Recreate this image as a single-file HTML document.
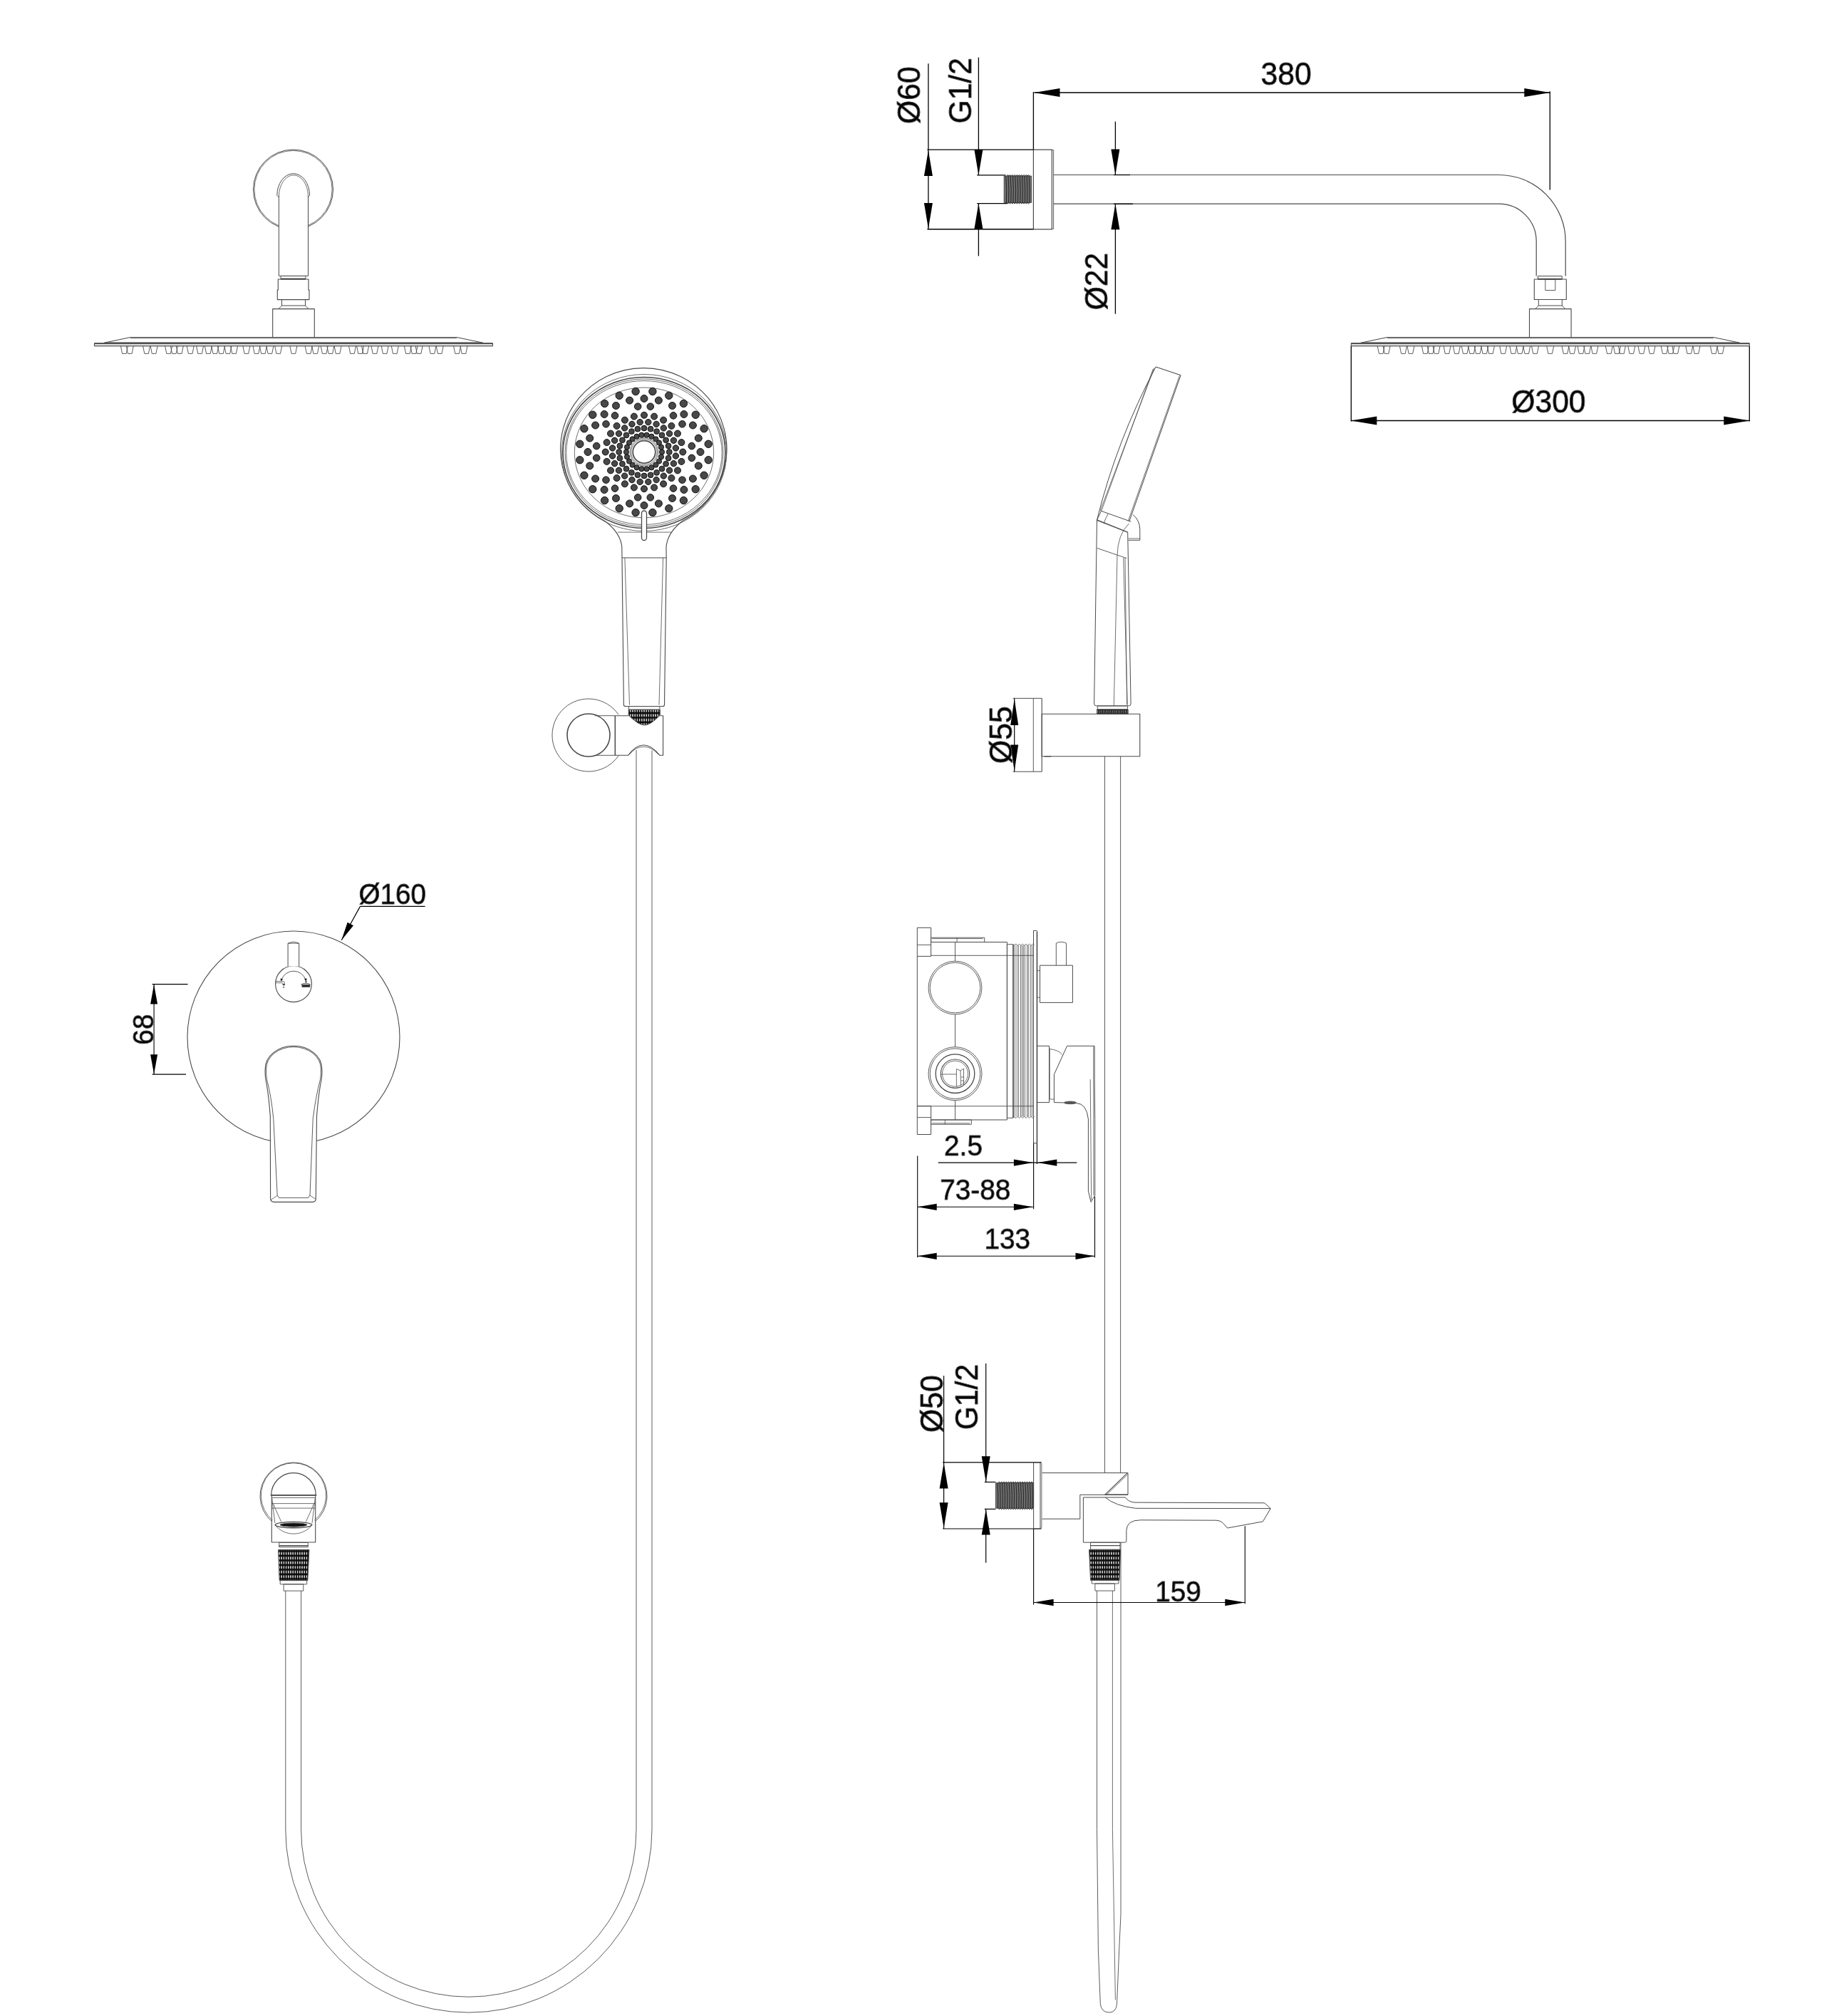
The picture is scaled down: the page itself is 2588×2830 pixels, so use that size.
<!DOCTYPE html>
<html><head><meta charset="utf-8"><title>drawing</title>
<style>
html,body{margin:0;padding:0;background:#fff;}
svg{display:block;will-change:transform;}
.t{font-family:"Liberation Sans",sans-serif;fill:#000;}
.ar{fill:#000;stroke:none;}
</style></head><body>
<svg width="2588" height="2830" viewBox="0 0 2588 2830">
<defs>
<pattern id="kn" patternUnits="userSpaceOnUse" width="3.2" height="6.5"><rect width="3.2" height="6.5" fill="#0a0a0a"/><ellipse cx="1.6" cy="3.25" rx="0.75" ry="2.3" fill="#f4f4f4"/></pattern>
<pattern id="kn2" patternUnits="userSpaceOnUse" width="2.6" height="6"><rect width="2.6" height="6" fill="#222"/><rect x="1" y="1.2" width="0.8" height="3.6" fill="#999"/></pattern>
</defs>
<rect width="100%" height="100%" fill="#fff"/>
<g fill="none" stroke="#4a4a4a" stroke-width="1" stroke-linejoin="round">
<rect x="132.5" y="482" width="559" height="3.6" stroke-width="1.1"/>
<line x1="132.5" y1="482.2" x2="691.5" y2="482.2" stroke-width="1.9"/>
<line x1="147" y1="480.8" x2="677" y2="480.8" stroke-width="0.9"/>
<path d="M146,481.3 L183,473.5 L641,473.5 L678,481.3" stroke-width="1.1"/>
<line x1="183" y1="474.8" x2="641" y2="474.8" stroke-width="0.8"/>
<path d="M169.4,485.6 L171.6,496.4 L177.2,496.4 L179.4,485.6" stroke-width="0.9"/>
<path d="M177.3,485.6 L179.5,496.4 L185.1,496.4 L187.3,485.6" stroke-width="0.9"/>
<path d="M200.6,485.6 L202.8,496.4 L208.4,496.4 L210.6,485.6" stroke-width="0.9"/>
<path d="M211.1,485.6 L213.3,496.4 L218.9,496.4 L221.1,485.6" stroke-width="0.9"/>
<path d="M231.6,485.6 L233.8,496.4 L239.4,496.4 L241.6,485.6" stroke-width="0.9"/>
<path d="M239.4,485.6 L241.6,496.4 L247.2,496.4 L249.4,485.6" stroke-width="0.9"/>
<path d="M247.3,485.6 L249.5,496.4 L255.1,496.4 L257.3,485.6" stroke-width="0.9"/>
<path d="M262.2,485.6 L264.4,496.4 L270,496.4 L272.2,485.6" stroke-width="0.9"/>
<path d="M275.6,485.6 L277.8,496.4 L283.4,496.4 L285.6,485.6" stroke-width="0.9"/>
<path d="M287.4,485.6 L289.6,496.4 L295.2,496.4 L297.4,485.6" stroke-width="0.9"/>
<path d="M296.8,485.6 L299,496.4 L304.6,496.4 L306.8,485.6" stroke-width="0.9"/>
<path d="M305.5,485.6 L307.7,496.4 L313.3,496.4 L315.5,485.6" stroke-width="0.9"/>
<path d="M314.9,485.6 L317.1,496.4 L322.7,496.4 L324.9,485.6" stroke-width="0.9"/>
<path d="M323.6,485.6 L325.8,496.4 L331.4,496.4 L333.6,485.6" stroke-width="0.9"/>
<path d="M340.9,485.6 L343.1,496.4 L348.7,496.4 L350.9,485.6" stroke-width="0.9"/>
<path d="M355,485.6 L357.2,496.4 L362.8,496.4 L365,485.6" stroke-width="0.9"/>
<path d="M364.4,485.6 L366.6,496.4 L372.2,496.4 L374.4,485.6" stroke-width="0.9"/>
<path d="M373.9,485.6 L376.1,496.4 L381.7,496.4 L383.9,485.6" stroke-width="0.9"/>
<path d="M385.7,485.6 L387.9,496.4 L393.5,496.4 L395.7,485.6" stroke-width="0.9"/>
<path d="M406.9,485.6 L409.1,496.4 L414.7,496.4 L416.9,485.6" stroke-width="0.9"/>
<path d="M428.2,485.6 L430.4,496.4 L436,496.4 L438.2,485.6" stroke-width="0.9"/>
<path d="M437.7,485.6 L439.9,496.4 L445.5,496.4 L447.7,485.6" stroke-width="0.9"/>
<path d="M450.2,485.6 L452.4,496.4 L458,496.4 L460.2,485.6" stroke-width="0.9"/>
<path d="M458.9,485.6 L461.1,496.4 L466.7,496.4 L468.9,485.6" stroke-width="0.9"/>
<path d="M469.1,485.6 L471.3,496.4 L476.9,496.4 L479.1,485.6" stroke-width="0.9"/>
<path d="M489.5,485.6 L491.7,496.4 L497.3,496.4 L499.5,485.6" stroke-width="0.9"/>
<path d="M500.6,485.6 L502.8,496.4 L508.4,496.4 L510.6,485.6" stroke-width="0.9"/>
<path d="M507.6,485.6 L509.8,496.4 L515.4,496.4 L517.6,485.6" stroke-width="0.9"/>
<path d="M521,485.6 L523.2,496.4 L528.8,496.4 L531,485.6" stroke-width="0.9"/>
<path d="M535.2,485.6 L537.4,496.4 L543,496.4 L545.2,485.6" stroke-width="0.9"/>
<path d="M549.3,485.6 L551.5,496.4 L557.1,496.4 L559.3,485.6" stroke-width="0.9"/>
<path d="M567.4,485.6 L569.6,496.4 L575.2,496.4 L577.4,485.6" stroke-width="0.9"/>
<path d="M576,485.6 L578.2,496.4 L583.8,496.4 L586,485.6" stroke-width="0.9"/>
<path d="M583.1,485.6 L585.3,496.4 L590.9,496.4 L593.1,485.6" stroke-width="0.9"/>
<path d="M602,485.6 L604.2,496.4 L609.8,496.4 L612,485.6" stroke-width="0.9"/>
<path d="M612.2,485.6 L614.4,496.4 L620,496.4 L622.2,485.6" stroke-width="0.9"/>
<path d="M636.6,485.6 L638.8,496.4 L644.4,496.4 L646.6,485.6" stroke-width="0.9"/>
<path d="M646,485.6 L648.2,496.4 L653.8,496.4 L656,485.6" stroke-width="0.9"/>
<rect x="382.7" y="433.6" width="58.6" height="39.9" stroke-width="1.1"/>
<path d="M391,433.6 L395.5,429 L428.5,429 L433,433.6" stroke-width="1"/>
<line x1="395.5" y1="429" x2="395.5" y2="420.5" stroke-width="1"/>
<line x1="428.5" y1="429" x2="428.5" y2="420.5" stroke-width="1"/>
<path d="M390.3,392 H433 V407.1 H434 V420.6 H389.3 V407.1 H390.3 Z" stroke-width="1.1"/>
<rect x="394" y="387.3" width="34.9" height="4.7" stroke-width="0.9"/>
<line x1="394" y1="391.4" x2="428.9" y2="391.4" stroke-width="1.7"/>
<circle cx="411.5" cy="266" r="56" stroke-width="1"/>
<circle cx="411.5" cy="266" r="54.6" stroke-width="0.8"/>
<path d="M391.4,387.3 V274 A20.55,30.2 0 0 1 432.5,274 V387.3 Z" fill="#fff" stroke="none"/>
<path d="M391.4,275 V387.3 H432.5 V275" stroke-width="1"/>
<path d="M388.8,274.5 A22.9,30.8 0 0 1 434.6,274.5" stroke-width="1"/>
<path d="M391.4,276 A20.55,30.2 0 0 1 432.5,276" stroke-width="0.8"/>
<line x1="388.8" y1="274.5" x2="391.4" y2="276.5" stroke-width="0.8"/>
<line x1="434.6" y1="274.5" x2="432.5" y2="276.5" stroke-width="0.8"/>
<rect x="1896.3" y="482" width="559" height="3.6" stroke-width="1.1"/>
<line x1="1896.3" y1="482.2" x2="2455.3" y2="482.2" stroke-width="1.9"/>
<line x1="1910.8" y1="480.8" x2="2440.8" y2="480.8" stroke-width="0.9"/>
<path d="M1909.8,481.3 L1946.8,473.5 L2404.8,473.5 L2441.8,481.3" stroke-width="1.1"/>
<line x1="1946.8" y1="474.8" x2="2404.8" y2="474.8" stroke-width="0.8"/>
<path d="M1933.2,485.6 L1935.4,496.4 L1941,496.4 L1943.2,485.6" stroke-width="0.9"/>
<path d="M1941.1,485.6 L1943.3,496.4 L1948.9,496.4 L1951.1,485.6" stroke-width="0.9"/>
<path d="M1964.4,485.6 L1966.6,496.4 L1972.2,496.4 L1974.4,485.6" stroke-width="0.9"/>
<path d="M1974.9,485.6 L1977.1,496.4 L1982.7,496.4 L1984.9,485.6" stroke-width="0.9"/>
<path d="M1995.4,485.6 L1997.6,496.4 L2003.2,496.4 L2005.4,485.6" stroke-width="0.9"/>
<path d="M2003.2,485.6 L2005.4,496.4 L2011,496.4 L2013.2,485.6" stroke-width="0.9"/>
<path d="M2011.1,485.6 L2013.3,496.4 L2018.9,496.4 L2021.1,485.6" stroke-width="0.9"/>
<path d="M2026,485.6 L2028.2,496.4 L2033.8,496.4 L2036,485.6" stroke-width="0.9"/>
<path d="M2039.4,485.6 L2041.6,496.4 L2047.2,496.4 L2049.4,485.6" stroke-width="0.9"/>
<path d="M2051.2,485.6 L2053.4,496.4 L2059,496.4 L2061.2,485.6" stroke-width="0.9"/>
<path d="M2060.6,485.6 L2062.8,496.4 L2068.4,496.4 L2070.6,485.6" stroke-width="0.9"/>
<path d="M2069.3,485.6 L2071.5,496.4 L2077.1,496.4 L2079.3,485.6" stroke-width="0.9"/>
<path d="M2078.7,485.6 L2080.9,496.4 L2086.5,496.4 L2088.7,485.6" stroke-width="0.9"/>
<path d="M2087.4,485.6 L2089.6,496.4 L2095.2,496.4 L2097.4,485.6" stroke-width="0.9"/>
<path d="M2104.7,485.6 L2106.9,496.4 L2112.5,496.4 L2114.7,485.6" stroke-width="0.9"/>
<path d="M2118.8,485.6 L2121,496.4 L2126.6,496.4 L2128.8,485.6" stroke-width="0.9"/>
<path d="M2128.2,485.6 L2130.4,496.4 L2136,496.4 L2138.2,485.6" stroke-width="0.9"/>
<path d="M2137.7,485.6 L2139.9,496.4 L2145.5,496.4 L2147.7,485.6" stroke-width="0.9"/>
<path d="M2149.5,485.6 L2151.7,496.4 L2157.3,496.4 L2159.5,485.6" stroke-width="0.9"/>
<path d="M2170.7,485.6 L2172.9,496.4 L2178.5,496.4 L2180.7,485.6" stroke-width="0.9"/>
<path d="M2192,485.6 L2194.2,496.4 L2199.8,496.4 L2202,485.6" stroke-width="0.9"/>
<path d="M2201.5,485.6 L2203.7,496.4 L2209.3,496.4 L2211.5,485.6" stroke-width="0.9"/>
<path d="M2214,485.6 L2216.2,496.4 L2221.8,496.4 L2224,485.6" stroke-width="0.9"/>
<path d="M2222.7,485.6 L2224.9,496.4 L2230.5,496.4 L2232.7,485.6" stroke-width="0.9"/>
<path d="M2232.9,485.6 L2235.1,496.4 L2240.7,496.4 L2242.9,485.6" stroke-width="0.9"/>
<path d="M2253.3,485.6 L2255.5,496.4 L2261.1,496.4 L2263.3,485.6" stroke-width="0.9"/>
<path d="M2264.4,485.6 L2266.6,496.4 L2272.2,496.4 L2274.4,485.6" stroke-width="0.9"/>
<path d="M2271.4,485.6 L2273.6,496.4 L2279.2,496.4 L2281.4,485.6" stroke-width="0.9"/>
<path d="M2284.8,485.6 L2287,496.4 L2292.6,496.4 L2294.8,485.6" stroke-width="0.9"/>
<path d="M2299,485.6 L2301.2,496.4 L2306.8,496.4 L2309,485.6" stroke-width="0.9"/>
<path d="M2313.1,485.6 L2315.3,496.4 L2320.9,496.4 L2323.1,485.6" stroke-width="0.9"/>
<path d="M2331.2,485.6 L2333.4,496.4 L2339,496.4 L2341.2,485.6" stroke-width="0.9"/>
<path d="M2339.8,485.6 L2342,496.4 L2347.6,496.4 L2349.8,485.6" stroke-width="0.9"/>
<path d="M2346.9,485.6 L2349.1,496.4 L2354.7,496.4 L2356.9,485.6" stroke-width="0.9"/>
<path d="M2365.8,485.6 L2368,496.4 L2373.6,496.4 L2375.8,485.6" stroke-width="0.9"/>
<path d="M2376,485.6 L2378.2,496.4 L2383.8,496.4 L2386,485.6" stroke-width="0.9"/>
<path d="M2400.4,485.6 L2402.6,496.4 L2408.2,496.4 L2410.4,485.6" stroke-width="0.9"/>
<path d="M2409.8,485.6 L2412,496.4 L2417.6,496.4 L2419.8,485.6" stroke-width="0.9"/>
<rect x="2146.5" y="433.6" width="58.6" height="39.9" stroke-width="1.1"/>
<path d="M2154.8,433.6 L2159.3,429 L2192.3,429 L2196.8,433.6" stroke-width="1"/>
<line x1="2159.3" y1="429" x2="2159.3" y2="420.5" stroke-width="1"/>
<line x1="2192.3" y1="429" x2="2192.3" y2="420.5" stroke-width="1"/>
<rect x="2153.3" y="392" width="45" height="28.5" stroke-width="1.1"/>
<rect x="2158.4" y="387.5" width="33.8" height="4.5" stroke-width="1"/>
<line x1="2158.4" y1="391.6" x2="2192.2" y2="391.6" stroke-width="1.7"/>
<rect x="2168.8" y="392" width="14" height="15.5" stroke-width="0.9"/>
<path d="M1478.6,245.5 H2103.7 A93.5,93.5 0 0 1 2197.2,339 V387.5" stroke-width="1.2"/>
<path d="M1478.6,286.2 H2103.7 A52.5,52.5 0 0 1 2156.2,338.7 V387.5" stroke-width="1.2"/>
<rect x="1450.4" y="210.1" width="26" height="111.7" stroke-width="1.2"/>
<line x1="1478.6" y1="210.6" x2="1478.6" y2="321.3" stroke-width="0.9"/>
<line x1="1476.4" y1="210.6" x2="1478.6" y2="210.6" stroke-width="0.8"/>
<line x1="1476.4" y1="321.3" x2="1478.6" y2="321.3" stroke-width="0.8"/>
<rect x="1409.2" y="247.1" width="38.4" height="37.3" stroke-width="1" fill="#6e6e6e"/>
<path d="M1411.7,247.4 Q1413.3,265.8 1412.3,284.1" stroke-width="0.8" stroke="#111"/>
<path d="M1415,247.4 Q1416.5,265.8 1415.5,284.1" stroke-width="0.8" stroke="#111"/>
<path d="M1418.2,247.4 Q1419.8,265.8 1418.8,284.1" stroke-width="0.8" stroke="#111"/>
<path d="M1421.5,247.4 Q1423,265.8 1422,284.1" stroke-width="0.8" stroke="#111"/>
<path d="M1424.7,247.4 Q1426.3,265.8 1425.3,284.1" stroke-width="0.8" stroke="#111"/>
<path d="M1428,247.4 Q1429.5,265.8 1428.5,284.1" stroke-width="0.8" stroke="#111"/>
<path d="M1431.2,247.4 Q1432.8,265.8 1431.8,284.1" stroke-width="0.8" stroke="#111"/>
<path d="M1434.5,247.4 Q1436,265.8 1435,284.1" stroke-width="0.8" stroke="#111"/>
<path d="M1437.7,247.4 Q1439.3,265.8 1438.3,284.1" stroke-width="0.8" stroke="#111"/>
<path d="M1441,247.4 Q1442.5,265.8 1441.5,284.1" stroke-width="0.8" stroke="#111"/>
<path d="M1444.2,247.4 Q1445.8,265.8 1444.8,284.1" stroke-width="0.8" stroke="#111"/>
<path d="M1412.7,247.1 L1414.3,245.6 L1416,247.1 L1417.6,245.6 L1419.2,247.1 L1420.8,245.6 L1422.5,247.1 L1424.1,245.6 L1425.7,247.1 L1427.3,245.6 L1429,247.1 L1430.6,245.6 L1432.2,247.1 L1433.8,245.6 L1435.5,247.1 L1437.1,245.6 L1438.7,247.1 L1440.3,245.6 L1442,247.1 L1443.6,245.6 L1445.2,247.1" stroke-width="1" stroke="#111"/>
<path d="M1412.7,284.4 L1414.3,285.9 L1416,284.4 L1417.6,285.9 L1419.2,284.4 L1420.8,285.9 L1422.5,284.4 L1424.1,285.9 L1425.7,284.4 L1427.3,285.9 L1429,284.4 L1430.6,285.9 L1432.2,284.4 L1433.8,285.9 L1435.5,284.4 L1437.1,285.9 L1438.7,284.4 L1440.3,285.9 L1442,284.4 L1443.6,285.9 L1445.2,284.4" stroke-width="1" stroke="#111"/>
<line x1="1301.4" y1="210.1" x2="1450.4" y2="210.1" stroke="#000" stroke-width="1.4"/>
<line x1="1301.4" y1="321.8" x2="1450.4" y2="321.8" stroke="#000" stroke-width="1.4"/>
<line x1="1302.9" y1="89.3" x2="1302.9" y2="321.8" stroke="#000" stroke-width="1.3"/>
<polygon class="ar" points="1302.9,211 1308.9,247 1296.9,247"/>
<polygon class="ar" points="1302.9,321 1296.9,285 1308.9,285"/>
<line x1="1373.4" y1="80.6" x2="1373.4" y2="245.9" stroke="#000" stroke-width="1.3"/>
<line x1="1373.4" y1="285.6" x2="1373.4" y2="359.4" stroke="#000" stroke-width="1.3"/>
<polygon class="ar" points="1373.4,245.9 1367.4,209.9 1379.4,209.9"/>
<polygon class="ar" points="1373.4,285.6 1379.4,321.6 1367.4,321.6"/>
<line x1="1371.2" y1="245.9" x2="1411.4" y2="245.9" stroke="#000" stroke-width="1.3"/>
<line x1="1371.2" y1="285.6" x2="1413.5" y2="285.6" stroke="#000" stroke-width="1.3"/>
<text class="t" font-size="44" text-anchor="middle" transform="translate(1291,133.7) rotate(-90) scale(0.97,1)">Ø60</text>
<text class="t" font-size="44" text-anchor="middle" transform="translate(1363.3,127.3) rotate(-90) scale(0.97,1)">G1/2</text>
<line x1="1450.4" y1="129" x2="1450.4" y2="210.1" stroke="#000" stroke-width="1.3"/>
<line x1="2175.3" y1="128.3" x2="2175.3" y2="266.6" stroke="#000" stroke-width="1.3"/>
<line x1="1451.5" y1="130" x2="2175.3" y2="130" stroke="#000" stroke-width="1.3"/>
<polygon class="ar" points="1451.5,130 1487.5,124 1487.5,136"/>
<polygon class="ar" points="2175.3,130 2139.3,136 2139.3,124"/>
<text class="t" font-size="44" text-anchor="middle" transform="translate(1805.2,118.6) rotate(0) scale(0.97,1)">380</text>
<line x1="1565.4" y1="170.6" x2="1565.4" y2="245.5" stroke="#000" stroke-width="1.3"/>
<line x1="1565.4" y1="286.3" x2="1565.4" y2="440.7" stroke="#000" stroke-width="1.3"/>
<polygon class="ar" points="1565.4,245.5 1559.4,209.5 1571.4,209.5"/>
<polygon class="ar" points="1565.4,286.3 1571.4,322.3 1559.4,322.3"/>
<line x1="1563" y1="245.5" x2="1586" y2="245.5" stroke="#000" stroke-width="1.3"/>
<line x1="1563" y1="286.3" x2="1590" y2="286.3" stroke="#000" stroke-width="1.3"/>
<text class="t" font-size="44" text-anchor="middle" transform="translate(1553.7,395) rotate(-90) scale(0.97,1)">Ø22</text>
<line x1="1896.3" y1="486" x2="1896.3" y2="591.5" stroke="#000" stroke-width="1.3"/>
<line x1="2455.3" y1="486" x2="2455.3" y2="591.5" stroke="#000" stroke-width="1.3"/>
<line x1="1896.3" y1="590.5" x2="2455.3" y2="590.5" stroke="#000" stroke-width="1.3"/>
<polygon class="ar" points="1896.3,590.5 1932.3,584.5 1932.3,596.5"/>
<polygon class="ar" points="2455.3,590.5 2419.3,596.5 2419.3,584.5"/>
<text class="t" font-size="44" text-anchor="middle" transform="translate(2173.4,578.6) rotate(0) scale(0.97,1)">Ø300</text>
<path d="M873,783 L872.8,768 Q871,748 849,731.5 A116.7,114 0 1 1 957.6,731.5 Q936.5,748 935,768 L935.2,783" stroke-width="1.1"/>
<ellipse cx="904" cy="635.5" rx="115.7" ry="110" stroke-width="0.8"/>
<ellipse cx="904" cy="635.5" rx="114" ry="106" stroke-width="1.7"/>
<ellipse cx="904" cy="635.5" rx="111" ry="103.5" stroke-width="0.8"/>
<ellipse cx="904" cy="635.5" rx="109.3" ry="101" stroke-width="0.8"/>
<ellipse cx="904" cy="635.4" rx="97.7" ry="91.4" stroke-width="0.8"/>
<line x1="866.8" y1="747.1" x2="942" y2="747.1" stroke-width="0.8"/>
<circle cx="904" cy="634.5" r="19.8" stroke-width="0.8"/>
<circle cx="904" cy="634.5" r="18.2" stroke-width="0.8"/>
<circle cx="904" cy="634.5" r="15.8" stroke-width="1.7"/>
<g fill="#484848" stroke="#111" stroke-width="1">
<circle cx="929" cy="634.5" r="3.6"/>
<circle cx="928" cy="641.3" r="3.6"/>
<circle cx="925" cy="647.5" r="3.6"/>
<circle cx="920.4" cy="652.6" r="3.6"/>
<circle cx="914.4" cy="656.3" r="3.6"/>
<circle cx="907.6" cy="658.3" r="3.6"/>
<circle cx="900.4" cy="658.3" r="3.6"/>
<circle cx="893.6" cy="656.3" r="3.6"/>
<circle cx="887.6" cy="652.6" r="3.6"/>
<circle cx="883" cy="647.5" r="3.6"/>
<circle cx="880" cy="641.3" r="3.6"/>
<circle cx="879" cy="634.5" r="3.6"/>
<circle cx="880" cy="627.7" r="3.6"/>
<circle cx="883" cy="621.5" r="3.6"/>
<circle cx="887.6" cy="616.4" r="3.6"/>
<circle cx="893.6" cy="612.7" r="3.6"/>
<circle cx="900.4" cy="610.7" r="3.6"/>
<circle cx="907.6" cy="610.7" r="3.6"/>
<circle cx="914.4" cy="612.7" r="3.6"/>
<circle cx="920.4" cy="616.4" r="3.6"/>
<circle cx="925" cy="621.5" r="3.6"/>
<circle cx="928" cy="627.7" r="3.6"/>
<circle cx="939.3" cy="634.5" r="3.9"/>
<circle cx="938.1" cy="643.1" r="3.9"/>
<circle cx="934.6" cy="651.2" r="3.9"/>
<circle cx="929" cy="658.1" r="3.9"/>
<circle cx="921.6" cy="663.4" r="3.9"/>
<circle cx="913.1" cy="666.8" r="3.9"/>
<circle cx="904" cy="667.9" r="3.9"/>
<circle cx="894.9" cy="666.8" r="3.9"/>
<circle cx="886.4" cy="663.4" r="3.9"/>
<circle cx="879" cy="658.1" r="3.9"/>
<circle cx="873.4" cy="651.2" r="3.9"/>
<circle cx="869.9" cy="643.1" r="3.9"/>
<circle cx="868.7" cy="634.5" r="3.9"/>
<circle cx="869.9" cy="625.9" r="3.9"/>
<circle cx="873.4" cy="617.8" r="3.9"/>
<circle cx="879" cy="610.9" r="3.9"/>
<circle cx="886.4" cy="605.6" r="3.9"/>
<circle cx="894.9" cy="602.2" r="3.9"/>
<circle cx="904" cy="601.1" r="3.9"/>
<circle cx="913.1" cy="602.2" r="3.9"/>
<circle cx="921.6" cy="605.6" r="3.9"/>
<circle cx="929" cy="610.9" r="3.9"/>
<circle cx="934.6" cy="617.8" r="3.9"/>
<circle cx="938.1" cy="625.9" r="3.9"/>
<circle cx="948.4" cy="640" r="4.2"/>
<circle cx="945.4" cy="650.7" r="4.2"/>
<circle cx="939.5" cy="660.3" r="4.2"/>
<circle cx="931.3" cy="668.1" r="4.2"/>
<circle cx="921.1" cy="673.6" r="4.2"/>
<circle cx="909.8" cy="676.4" r="4.2"/>
<circle cx="898.2" cy="676.4" r="4.2"/>
<circle cx="886.9" cy="673.6" r="4.2"/>
<circle cx="876.7" cy="668.1" r="4.2"/>
<circle cx="868.5" cy="660.3" r="4.2"/>
<circle cx="862.6" cy="650.7" r="4.2"/>
<circle cx="859.6" cy="640" r="4.2"/>
<circle cx="859.6" cy="629" r="4.2"/>
<circle cx="862.6" cy="618.3" r="4.2"/>
<circle cx="868.5" cy="608.7" r="4.2"/>
<circle cx="876.7" cy="600.9" r="4.2"/>
<circle cx="886.9" cy="595.4" r="4.2"/>
<circle cx="898.2" cy="592.6" r="4.2"/>
<circle cx="909.8" cy="592.6" r="4.2"/>
<circle cx="921.1" cy="595.4" r="4.2"/>
<circle cx="931.3" cy="600.9" r="4.2"/>
<circle cx="939.5" cy="608.7" r="4.2"/>
<circle cx="945.4" cy="618.3" r="4.2"/>
<circle cx="948.4" cy="629" r="4.2"/>
<circle cx="958.3" cy="634.5" r="4.5"/>
<circle cx="956.4" cy="647.9" r="4.5"/>
<circle cx="951" cy="660.4" r="4.5"/>
<circle cx="942.4" cy="671.1" r="4.5"/>
<circle cx="931.1" cy="679.3" r="4.5"/>
<circle cx="918.1" cy="684.4" r="4.5"/>
<circle cx="904" cy="686.2" r="4.5"/>
<circle cx="889.9" cy="684.4" r="4.5"/>
<circle cx="876.9" cy="679.3" r="4.5"/>
<circle cx="865.6" cy="671.1" r="4.5"/>
<circle cx="857" cy="660.4" r="4.5"/>
<circle cx="851.6" cy="647.9" r="4.5"/>
<circle cx="849.7" cy="634.5" r="4.5"/>
<circle cx="851.6" cy="621.1" r="4.5"/>
<circle cx="857" cy="608.6" r="4.5"/>
<circle cx="865.6" cy="597.9" r="4.5"/>
<circle cx="876.9" cy="589.7" r="4.5"/>
<circle cx="889.9" cy="584.6" r="4.5"/>
<circle cx="904" cy="582.8" r="4.5"/>
<circle cx="918.1" cy="584.6" r="4.5"/>
<circle cx="931.1" cy="589.7" r="4.5"/>
<circle cx="942.4" cy="597.9" r="4.5"/>
<circle cx="951" cy="608.6" r="4.5"/>
<circle cx="956.4" cy="621.1" r="4.5"/>
<circle cx="970.8" cy="626.1" r="4.8"/>
<circle cx="970.8" cy="642.9" r="4.8"/>
<circle cx="957.5" cy="673.7" r="4.8"/>
<circle cx="945" cy="685.6" r="4.8"/>
<circle cx="912.8" cy="698.3" r="4.8"/>
<circle cx="895.2" cy="698.3" r="4.8"/>
<circle cx="863" cy="685.6" r="4.8"/>
<circle cx="850.5" cy="673.7" r="4.8"/>
<circle cx="837.2" cy="642.9" r="4.8"/>
<circle cx="837.2" cy="626.1" r="4.8"/>
<circle cx="850.5" cy="595.3" r="4.8"/>
<circle cx="863" cy="583.4" r="4.8"/>
<circle cx="895.2" cy="570.7" r="4.8"/>
<circle cx="912.8" cy="570.7" r="4.8"/>
<circle cx="945" cy="583.4" r="4.8"/>
<circle cx="957.5" cy="595.3" r="4.8"/>
<circle cx="983" cy="634.5" r="5"/>
<circle cx="980.3" cy="653.9" r="5"/>
<circle cx="972.4" cy="672" r="5"/>
<circle cx="959.9" cy="687.5" r="5"/>
<circle cx="943.5" cy="699.5" r="5"/>
<circle cx="924.4" cy="706.9" r="5"/>
<circle cx="904" cy="709.5" r="5"/>
<circle cx="883.6" cy="706.9" r="5"/>
<circle cx="864.5" cy="699.5" r="5"/>
<circle cx="848.1" cy="687.5" r="5"/>
<circle cx="835.6" cy="672" r="5"/>
<circle cx="827.7" cy="653.9" r="5"/>
<circle cx="825" cy="634.5" r="5"/>
<circle cx="827.7" cy="615.1" r="5"/>
<circle cx="835.6" cy="597" r="5"/>
<circle cx="848.1" cy="581.5" r="5"/>
<circle cx="864.5" cy="569.5" r="5"/>
<circle cx="883.6" cy="562.1" r="5"/>
<circle cx="904" cy="559.5" r="5"/>
<circle cx="924.4" cy="562.1" r="5"/>
<circle cx="943.5" cy="569.5" r="5"/>
<circle cx="959.9" cy="581.5" r="5"/>
<circle cx="972.4" cy="597" r="5"/>
<circle cx="980.3" cy="615.1" r="5"/>
<circle cx="994.2" cy="645.7" r="5.2"/>
<circle cx="988.1" cy="667.3" r="5.2"/>
<circle cx="976.2" cy="686.7" r="5.2"/>
<circle cx="959.4" cy="702.5" r="5.2"/>
<circle cx="938.8" cy="713.7" r="5.2"/>
<circle cx="915.9" cy="719.5" r="5.2"/>
<circle cx="892.1" cy="719.5" r="5.2"/>
<circle cx="869.2" cy="713.7" r="5.2"/>
<circle cx="848.6" cy="702.5" r="5.2"/>
<circle cx="831.8" cy="686.7" r="5.2"/>
<circle cx="819.9" cy="667.3" r="5.2"/>
<circle cx="813.8" cy="645.7" r="5.2"/>
<circle cx="813.8" cy="623.3" r="5.2"/>
<circle cx="819.9" cy="601.7" r="5.2"/>
<circle cx="831.8" cy="582.3" r="5.2"/>
<circle cx="848.6" cy="566.5" r="5.2"/>
<circle cx="869.2" cy="555.3" r="5.2"/>
<circle cx="892.1" cy="549.5" r="5.2"/>
<circle cx="915.9" cy="549.5" r="5.2"/>
<circle cx="938.8" cy="555.3" r="5.2"/>
<circle cx="959.4" cy="566.5" r="5.2"/>
<circle cx="976.2" cy="582.3" r="5.2"/>
<circle cx="988.1" cy="601.7" r="5.2"/>
<circle cx="994.2" cy="623.3" r="5.2"/>
</g>
<rect x="900.5" y="717" width="7" height="41.5" rx="3.5" fill="#fff" stroke-width="1.3"/>
<path d="M873,783 L875.4,989.6 Q875.6,991.5 878,991.5 H930 Q932.4,991.5 932.5,989.6 L935.2,783 Z" stroke-width="1.1"/>
<line x1="876.9" y1="783" x2="883.5" y2="989.6" stroke-width="0.8"/>
<line x1="930.6" y1="783" x2="925" y2="989.6" stroke-width="0.8"/>
<rect x="882.5" y="991.5" width="43.4" height="4.7" stroke-width="0.9"/>
<path d="M882.2,996.2 H926.3 V1004 Q913,1017.9 904.5,1018 Q896,1017.9 882.2,1004 Z" stroke-width="1" fill="url(#kn)"/>
<path d="M863.3,1004.7 H882.2 M926.3,1004.7 H930.6 V1060.3 H925.9 Q914,1045.5 903.3,1046 Q892.5,1045.5 881.6,1060.3 H863.3" stroke-width="1.1"/>
<path d="M924,1059 Q914,1048 903.3,1048.3 Q892.5,1048 883.5,1059" stroke-width="0.8"/>
<line x1="863.3" y1="1004.7" x2="863.3" y2="1060.3" stroke-width="1.5"/>
<path d="M868,1003.1 A51,51 0 1 0 868,1060.9" stroke-width="0.9"/>
<circle cx="826" cy="1032" r="30" stroke-width="1.6"/>
<line x1="835" y1="1004.7" x2="863.3" y2="1004.7" stroke-width="0.9"/>
<line x1="835" y1="1060.3" x2="863.3" y2="1060.3" stroke-width="0.9"/>
<path d="M893,1053 V2568 A235.2,235.2 0 0 1 422.6,2568 V2233.2" stroke-width="0.9"/>
<path d="M915,1053.5 V2568 A257.1,257.1 0 0 1 400.8,2568 V2233.2" stroke-width="0.9"/>
<path d="M381.3,2135.6 A47,47 0 1 1 442.7,2135.6" stroke-width="0.9"/>
<path d="M382.6,2134.2 A45.6,45.6 0 1 1 441.4,2134.2" stroke-width="0.8"/>
<path d="M380.7,2098.9 A31.3,31.3 0 0 1 443.3,2098.9" stroke-width="1.2"/>
<line x1="379.7" y1="2098.9" x2="444.3" y2="2098.9" stroke-width="1.5"/>
<rect x="381.3" y="2098.9" width="61.4" height="66.1" stroke-width="1.1"/>
<line x1="381.3" y1="2102.5" x2="442.7" y2="2102.5" stroke-width="0.8"/>
<line x1="381.3" y1="2110.6" x2="442.7" y2="2110.6" stroke-width="0.8"/>
<line x1="381.3" y1="2117.1" x2="442.7" y2="2117.1" stroke-width="0.8"/>
<path d="M383.5,2110.6 L386,2117.1 L394.8,2136.4 M440.5,2110.6 L438,2117.1 L429.2,2136.4" stroke-width="0.8"/>
<path d="M381.6,2102.5 L385.9,2138 M442.4,2102.5 L438,2138" stroke-width="0.8"/>
<path d="M385.4,2140 A33.5,33.5 0 0 0 438.6,2140" stroke-width="0.8"/>
<ellipse cx="412" cy="2140.6" rx="25.6" ry="4.2" stroke-width="1.4" fill="#fff"/>
<ellipse cx="412" cy="2140.6" rx="19" ry="2.6" stroke-width="0.8" fill="#111"/>
<rect x="391.7" y="2165.5" width="40.6" height="6.3" stroke-width="0.9"/>
<line x1="391.7" y1="2169.7" x2="432.3" y2="2169.7" stroke-width="1.5"/>
<path d="M390.6,2175.4 L433.9,2175.4 L431.8,2218.6 L392.2,2218.6 Z" stroke-width="1" fill="url(#kn)"/>
<rect x="393.2" y="2218.6" width="37.5" height="5.3" stroke-width="0.9"/>
<rect x="398.1" y="2223.9" width="27.7" height="9.3" stroke-width="0.9"/>
<circle cx="412" cy="1456" r="149" stroke-width="1.1"/>
<circle cx="412" cy="1381.2" r="25.4" stroke-width="1.1"/>
<path d="M404.1,1356.4 V1324.3 Q411.9,1320.5 419.7,1324.3 V1356.4" stroke-width="1" fill="#fff"/>
<line x1="404.1" y1="1324.3" x2="419.7" y2="1324.3" stroke-width="0.8"/>
<path d="M395.1,1375.4 A17.8,17.8 0 0 1 428.9,1375.4" stroke-width="0.9"/>
<polygon class="ar" points="394.4,1377.6 393.6,1373.6 397,1374.4"/>
<polygon class="ar" points="429.3,1377.4 427.3,1374 430.7,1373.6"/>
<path d="M386.5,1377.5 H397.4 Q399.3,1377.7 399.3,1380 V1382.8 M386.5,1379.7 H396.3 Q397.1,1379.9 397.1,1381 V1382.8" stroke-width="0.8"/>
<rect x="397" y="1381.6" width="2.6" height="1.4" stroke-width="0.5" fill="#222"/>
<circle cx="398.1" cy="1385.8" r="0.7" stroke-width="0.5" fill="#222"/>
<circle cx="429.5" cy="1377.8" r="0.9" stroke-width="0.5" fill="#111"/>
<line x1="429.5" y1="1378.5" x2="429.5" y2="1380.3" stroke-width="1"/>
<path d="M422.6,1382 Q429.3,1378.3 435.6,1382 Z" stroke-width="0.8"/>
<rect x="423.8" y="1382.6" width="11.2" height="3" stroke-width="0.5" fill="#222"/>
<line x1="213.6" y1="1381.6" x2="263.5" y2="1381.6" stroke="#000" stroke-width="1.1"/>
<line x1="213.6" y1="1508.1" x2="261" y2="1508.1" stroke="#000" stroke-width="1.1"/>
<line x1="216.1" y1="1381.6" x2="216.1" y2="1508.1" stroke="#000" stroke-width="1.1"/>
<polygon class="ar" points="216.1,1382 221.1,1409.5 211.1,1409.5"/>
<polygon class="ar" points="216.1,1507.7 211.1,1480.2 221.1,1480.2"/>
<text class="t" font-size="40" text-anchor="middle" transform="translate(215,1445.1) rotate(-90) scale(0.97,1)">68</text>
<line x1="479.3" y1="1319.8" x2="505.5" y2="1272.4" stroke="#000" stroke-width="1.2"/>
<line x1="505.5" y1="1272.4" x2="596.6" y2="1272.4" stroke="#000" stroke-width="1.2"/>
<polygon class="ar" points="479.3,1319.8 487.7,1294.7 496,1299.3"/>
<text class="t" font-size="39.8" text-anchor="middle" transform="translate(550.8,1269) rotate(0) scale(0.97,1)">Ø160</text>
<path d="M384.4,1687.4 L439.2,1687.4 Q443.3,1687 443.3,1682.6 L444.5,1567 Q447,1535 451,1516 Q452.4,1506 451.7,1500 A39.7,31.7 0 0 0 372.3,1500 Q371.6,1506 373,1516 Q377,1535 379.3,1567 L379.6,1682.6 Q380,1687 384.4,1687.4 Z" stroke-width="1.1" fill="#fff"/>
<path d="M391.5,1681.4 L432.6,1681.4 L435,1677.9 L439.2,1570.7 Q443,1540 449.6,1514.8 Q450.8,1506 450.3,1500 A38.3,30.4 0 0 0 373.7,1500 Q373.2,1506 374.4,1514.8 Q381,1540 383.8,1570.7 L389.2,1677.9 Z" stroke-width="0.9"/>
<line x1="380.4" y1="1684.2" x2="389.2" y2="1678.2" stroke-width="0.8"/>
<line x1="443" y1="1683.2" x2="435" y2="1678.2" stroke-width="0.8"/>
<line x1="1622.2" y1="514.9" x2="1657.1" y2="526.8" stroke-width="1.1"/>
<line x1="1657.1" y1="526.8" x2="1584.9" y2="731.8" stroke-width="1"/>
<line x1="1655.4" y1="527.6" x2="1583.3" y2="731.5" stroke-width="0.8"/>
<path d="M1622.2,514.9 Q1567.5,617.5 1539.5,730" stroke-width="1"/>
<line x1="1620" y1="516.4" x2="1544" y2="717.3" stroke-width="0.8"/>
<line x1="1618.4" y1="517.9" x2="1545.5" y2="718" stroke-width="0.8"/>
<line x1="1545.5" y1="717.3" x2="1587.2" y2="732.2" stroke-width="1"/>
<line x1="1539.5" y1="730" x2="1582.7" y2="747.1" stroke-width="1.5"/>
<line x1="1545.5" y1="717.3" x2="1539.5" y2="730" stroke-width="1"/>
<path d="M1555.2,721.3 Q1551,728 1549.2,735.2" stroke-width="0.8"/>
<path d="M1539.5,730 L1535.6,988 Q1535.6,990.8 1538.5,990.8 H1584.4 Q1587.1,990.8 1587.1,988 L1582.7,747.1" stroke-width="1"/>
<path d="M1584.5,735 Q1568.5,750 1568,780 L1563.3,990.3" stroke-width="0.8"/>
<line x1="1576.7" y1="783" x2="1582.3" y2="989.5" stroke-width="0.8"/>
<line x1="1579" y1="783" x2="1581.6" y2="989.5" stroke-width="0.8"/>
<line x1="1539.5" y1="769.4" x2="1581.2" y2="783.6" stroke-width="0.9"/>
<path d="M1590.2,722.5 Q1599.8,731 1599.8,743 V758.3 H1583.5" stroke-width="1"/>
<line x1="1583.5" y1="756" x2="1599.8" y2="756" stroke-width="0.8"/>
<rect x="1540.3" y="991" width="42.1" height="4.9" stroke-width="0.9"/>
<rect x="1539.5" y="995.9" width="43.7" height="6.3" stroke-width="0.9" fill="url(#kn2)"/>
<line x1="1421.6" y1="980.3" x2="1462.2" y2="980.3" stroke-width="1"/>
<line x1="1421.6" y1="1083.2" x2="1462.2" y2="1083.2" stroke-width="1"/>
<line x1="1450.3" y1="980.3" x2="1450.3" y2="1083.2" stroke-width="0.9"/>
<line x1="1462.2" y1="980.3" x2="1462.2" y2="1083.2" stroke-width="1.1"/>
<line x1="1423.7" y1="980.3" x2="1423.7" y2="1083.2" stroke="#000" stroke-width="1.2"/>
<polygon class="ar" points="1423.7,981 1429.2,1018 1418.2,1018"/>
<polygon class="ar" points="1423.7,1082.5 1418.2,1045.5 1429.2,1045.5"/>
<text class="t" font-size="44" text-anchor="middle" transform="translate(1420,1031.6) rotate(-90) scale(0.97,1)">Ø55</text>
<rect x="1462.2" y="1002.2" width="137.6" height="59.5" stroke-width="1.1"/>
<line x1="1465.7" y1="1061.7" x2="1475.2" y2="1061.7" stroke-width="1.4"/>
<line x1="1550.5" y1="1061.7" x2="1550.5" y2="2067.6" stroke-width="0.9"/>
<line x1="1572.6" y1="1061.7" x2="1572.6" y2="2067.6" stroke-width="0.9"/>
<rect x="1287.3" y="1302.3" width="19.3" height="40.1" stroke-width="1"/>
<line x1="1287.3" y1="1326.4" x2="1306.6" y2="1326.4" stroke-width="0.9"/>
<rect x="1287.3" y="1552.6" width="19.3" height="39.9" stroke-width="1"/>
<line x1="1287.3" y1="1568.6" x2="1306.6" y2="1568.6" stroke-width="0.9"/>
<line x1="1287.3" y1="1342.4" x2="1287.3" y2="1552.6" stroke-width="1"/>
<line x1="1306.6" y1="1322.5" x2="1413.4" y2="1322.5" stroke-width="1"/>
<line x1="1306.6" y1="1572" x2="1413.4" y2="1572" stroke-width="1"/>
<line x1="1306.6" y1="1341.3" x2="1450.5" y2="1341.3" stroke-width="0.9"/>
<line x1="1287.3" y1="1552.8" x2="1450.5" y2="1552.8" stroke-width="0.9"/>
<rect x="1306.6" y="1316.2" width="75.1" height="6.3" stroke-width="0.9"/>
<line x1="1308" y1="1317.6" x2="1379.5" y2="1317.6" stroke-width="0.8"/>
<line x1="1343.1" y1="1316.2" x2="1343.1" y2="1322.5" stroke-width="0.8"/>
<rect x="1306.6" y="1572" width="56.7" height="6.3" stroke-width="0.9"/>
<line x1="1308" y1="1576.8" x2="1361" y2="1576.8" stroke-width="0.8"/>
<line x1="1326.3" y1="1572" x2="1326.3" y2="1578.3" stroke-width="0.8"/>
<line x1="1413.4" y1="1322.5" x2="1413.4" y2="1572" stroke-width="1"/>
<line x1="1340.5" y1="1322.5" x2="1340.5" y2="1572" stroke-width="0.9"/>
<rect x="1413.4" y="1325.6" width="8.4" height="243.8" stroke-width="0.9"/>
<line x1="1424.4" y1="1327.2" x2="1424.4" y2="1567.4" stroke-width="0.8"/>
<line x1="1427.3" y1="1327.2" x2="1427.3" y2="1567.4" stroke-width="0.8"/>
<line x1="1429.6" y1="1327.2" x2="1429.6" y2="1567.4" stroke-width="0.8"/>
<line x1="1432.5" y1="1327.2" x2="1432.5" y2="1567.4" stroke-width="0.8"/>
<line x1="1434.5" y1="1327.2" x2="1434.5" y2="1567.4" stroke-width="0.8"/>
<line x1="1436.4" y1="1327.2" x2="1436.4" y2="1567.4" stroke-width="0.8"/>
<line x1="1438.4" y1="1327.2" x2="1438.4" y2="1567.4" stroke-width="0.8"/>
<line x1="1441.6" y1="1327.2" x2="1441.6" y2="1567.4" stroke-width="0.8"/>
<line x1="1443.3" y1="1327.2" x2="1443.3" y2="1567.4" stroke-width="0.8"/>
<line x1="1446.2" y1="1327.2" x2="1446.2" y2="1567.4" stroke-width="0.8"/>
<line x1="1448.5" y1="1327.2" x2="1448.5" y2="1567.4" stroke-width="0.8"/>
<line x1="1422.1" y1="1326" x2="1422.1" y2="1569" stroke-width="1.4"/>
<path d="M1421.8,1327.4 L1426,1325.1 L1428.3,1327.4 L1430.6,1325.1 L1432.9,1327.4 L1435.3,1325.1 L1437.6,1327.4 L1440,1325.1 L1442.3,1327.4 L1444.7,1325.1 L1447,1327.4 L1449.4,1325.1 L1451.7,1327.4" stroke-width="0.8"/>
<path d="M1421.8,1567.2 L1426,1569.5 L1428.3,1567.2 L1430.6,1569.5 L1432.9,1567.2 L1435.3,1569.5 L1437.6,1567.2 L1440,1569.5 L1442.3,1567.2 L1444.7,1569.5 L1447,1567.2 L1449.4,1569.5 L1451.7,1567.2" stroke-width="0.8"/>
<circle cx="1340.5" cy="1386.6" r="37.4" stroke-width="0.9" fill="#fff"/>
<circle cx="1340.5" cy="1386.6" r="35.3" stroke-width="0.9"/>
<circle cx="1340.5" cy="1507.2" r="37.5" stroke-width="0.9" fill="#fff"/>
<circle cx="1340.5" cy="1507.2" r="35.3" stroke-width="0.9"/>
<circle cx="1340.5" cy="1507.2" r="27.3" stroke-width="1.3"/>
<circle cx="1340.5" cy="1507.2" r="20.2" stroke-width="1.1"/>
<circle cx="1340.5" cy="1507.2" r="18" stroke-width="0.8"/>
<line x1="1320.6" y1="1508" x2="1342.4" y2="1508" stroke-width="0.8"/>
<path d="M1342.4,1500.5 L1342.4,1525 M1342.4,1500.5 L1348,1503 L1352.5,1500 L1352.5,1523 M1348,1503 L1348.5,1524 M1349,1512 H1352.5 M1349,1517 H1352.5" stroke-width="0.8"/>
<path d="M1450.5,1604.7 V1306.4 H1455 L1455.6,1307.2 V1604.7 Z" stroke-width="1"/>
<line x1="1455.4" y1="1308" x2="1455.4" y2="1604" stroke-width="1.5"/>
<line x1="1450.6" y1="1604.7" x2="1450.6" y2="1697.2" stroke="#000" stroke-width="1.1"/>
<line x1="1455.4" y1="1604.7" x2="1455.4" y2="1634.1" stroke="#000" stroke-width="1.1"/>
<rect x="1455.6" y="1362.6" width="3.9" height="37.7" stroke-width="0.8"/>
<rect x="1459.5" y="1355.2" width="45.9" height="52.2" stroke-width="1"/>
<path d="M1482.3,1355.2 V1324 Q1489.4,1320.5 1496.5,1324 V1355.2" stroke-width="0.9"/>
<rect x="1455.5" y="1468.3" width="17" height="79.3" stroke-width="1"/>
<path d="M1473.2,1472.3 V1543 H1479.4" stroke-width="0.8"/>
<path d="M1472.5,1472.3 Q1486,1474 1490.8,1480.4" stroke-width="0.8"/>
<path d="M1479.4,1547.6 V1508.3 L1497.6,1468.3 H1536.1 V1515.1 L1536.7,1571.5 V1678.1 L1531.1,1687.4 L1527.4,1671.9 V1570.9 Q1525,1549 1510.7,1548.6 L1493.3,1547.9 Z" stroke-width="1"/>
<line x1="1530.2" y1="1515.1" x2="1531.7" y2="1684.3" stroke-width="0.8"/>
<line x1="1534.8" y1="1469.2" x2="1534.8" y2="1678.1" stroke-width="0.8"/>
<ellipse cx="1502" cy="1547.9" rx="8.5" ry="1.8" stroke-width="0.8" fill="#555"/>
<line x1="1316.7" y1="1632.1" x2="1511.3" y2="1632.1" stroke="#000" stroke-width="1.1"/>
<polygon class="ar" points="1449.9,1632.1 1422.9,1636.7 1422.9,1627.5"/>
<polygon class="ar" points="1456.3,1632.1 1483.3,1627.5 1483.3,1636.7"/>
<text class="t" font-size="40" text-anchor="middle" transform="translate(1352,1621.6) rotate(0) scale(0.97,1)">2.5</text>
<line x1="1287.7" y1="1694.3" x2="1449.9" y2="1694.3" stroke="#000" stroke-width="1.1"/>
<polygon class="ar" points="1287.7,1694.3 1314.7,1689.7 1314.7,1698.9"/>
<polygon class="ar" points="1449.9,1694.3 1422.9,1698.9 1422.9,1689.7"/>
<text class="t" font-size="40" text-anchor="middle" transform="translate(1368.8,1683.9) rotate(0) scale(0.97,1)">73-88</text>
<line x1="1287.7" y1="1763.3" x2="1536.5" y2="1763.3" stroke="#000" stroke-width="1.1"/>
<polygon class="ar" points="1287.7,1763.3 1314.7,1758.7 1314.7,1767.9"/>
<polygon class="ar" points="1536.5,1763.3 1509.5,1767.9 1509.5,1758.7"/>
<text class="t" font-size="40" text-anchor="middle" transform="translate(1413.8,1752.9) rotate(0) scale(0.97,1)">133</text>
<line x1="1287.7" y1="1622.4" x2="1287.7" y2="1765.3" stroke="#000" stroke-width="1.1"/>
<line x1="1536.5" y1="1679.5" x2="1536.5" y2="1765.3" stroke="#000" stroke-width="1.1"/>
<line x1="1324.6" y1="1931.3" x2="1324.6" y2="2146" stroke="#000" stroke-width="1.2"/>
<line x1="1323.1" y1="2052.9" x2="1461.7" y2="2052.9" stroke="#000" stroke-width="1.2"/>
<line x1="1323.1" y1="2146" x2="1461.7" y2="2146" stroke="#000" stroke-width="1.2"/>
<polygon class="ar" points="1324.6,2053.6 1330.6,2089.6 1318.6,2089.6"/>
<polygon class="ar" points="1324.6,2145.3 1318.6,2109.3 1330.6,2109.3"/>
<text class="t" font-size="44" text-anchor="middle" transform="translate(1322.5,1970.7) rotate(-90) scale(0.97,1)">Ø50</text>
<line x1="1383.7" y1="1913.9" x2="1383.7" y2="2080.5" stroke="#000" stroke-width="1.2"/>
<line x1="1383.7" y1="2118.4" x2="1383.7" y2="2193.7" stroke="#000" stroke-width="1.2"/>
<polygon class="ar" points="1383.7,2080.3 1377.7,2044.3 1389.7,2044.3"/>
<polygon class="ar" points="1383.7,2118.6 1389.7,2154.6 1377.7,2154.6"/>
<text class="t" font-size="44" text-anchor="middle" transform="translate(1372.3,1961.1) rotate(-90) scale(0.97,1)">G1/2</text>
<line x1="1381.8" y1="2080.5" x2="1397.4" y2="2080.5" stroke="#000" stroke-width="1.2"/>
<line x1="1381.8" y1="2118.4" x2="1397.4" y2="2118.4" stroke="#000" stroke-width="1.2"/>
<rect x="1397.4" y="2081.7" width="53.2" height="35.5" stroke-width="1" fill="#6e6e6e"/>
<path d="M1399.9,2082 Q1401.5,2099.4 1400.5,2116.9" stroke-width="0.8" stroke="#111"/>
<path d="M1403.2,2082 Q1404.8,2099.4 1403.8,2116.9" stroke-width="0.8" stroke="#111"/>
<path d="M1406.4,2082 Q1408,2099.4 1407,2116.9" stroke-width="0.8" stroke="#111"/>
<path d="M1409.7,2082 Q1411.2,2099.4 1410.2,2116.9" stroke-width="0.8" stroke="#111"/>
<path d="M1412.9,2082 Q1414.5,2099.4 1413.5,2116.9" stroke-width="0.8" stroke="#111"/>
<path d="M1416.2,2082 Q1417.8,2099.4 1416.8,2116.9" stroke-width="0.8" stroke="#111"/>
<path d="M1419.4,2082 Q1421,2099.4 1420,2116.9" stroke-width="0.8" stroke="#111"/>
<path d="M1422.7,2082 Q1424.2,2099.4 1423.2,2116.9" stroke-width="0.8" stroke="#111"/>
<path d="M1425.9,2082 Q1427.5,2099.4 1426.5,2116.9" stroke-width="0.8" stroke="#111"/>
<path d="M1429.2,2082 Q1430.8,2099.4 1429.8,2116.9" stroke-width="0.8" stroke="#111"/>
<path d="M1432.4,2082 Q1434,2099.4 1433,2116.9" stroke-width="0.8" stroke="#111"/>
<path d="M1435.7,2082 Q1437.2,2099.4 1436.2,2116.9" stroke-width="0.8" stroke="#111"/>
<path d="M1438.9,2082 Q1440.5,2099.4 1439.5,2116.9" stroke-width="0.8" stroke="#111"/>
<path d="M1442.2,2082 Q1443.8,2099.4 1442.8,2116.9" stroke-width="0.8" stroke="#111"/>
<path d="M1445.4,2082 Q1447,2099.4 1446,2116.9" stroke-width="0.8" stroke="#111"/>
<path d="M1448.7,2082 Q1450.2,2099.4 1449.2,2116.9" stroke-width="0.8" stroke="#111"/>
<path d="M1400.9,2081.7 L1402.5,2080.2 L1404.2,2081.7 L1405.8,2080.2 L1407.4,2081.7 L1409,2080.2 L1410.7,2081.7 L1412.3,2080.2 L1413.9,2081.7 L1415.5,2080.2 L1417.2,2081.7 L1418.8,2080.2 L1420.4,2081.7 L1422,2080.2 L1423.7,2081.7 L1425.3,2080.2 L1426.9,2081.7 L1428.5,2080.2 L1430.2,2081.7 L1431.8,2080.2 L1433.4,2081.7 L1435,2080.2 L1436.7,2081.7 L1438.3,2080.2 L1439.9,2081.7 L1441.5,2080.2 L1443.2,2081.7 L1444.8,2080.2 L1446.4,2081.7 L1448,2080.2 L1449.7,2081.7" stroke-width="1" stroke="#111"/>
<path d="M1400.9,2117.2 L1402.5,2118.7 L1404.2,2117.2 L1405.8,2118.7 L1407.4,2117.2 L1409,2118.7 L1410.7,2117.2 L1412.3,2118.7 L1413.9,2117.2 L1415.5,2118.7 L1417.2,2117.2 L1418.8,2118.7 L1420.4,2117.2 L1422,2118.7 L1423.7,2117.2 L1425.3,2118.7 L1426.9,2117.2 L1428.5,2118.7 L1430.2,2117.2 L1431.8,2118.7 L1433.4,2117.2 L1435,2118.7 L1436.7,2117.2 L1438.3,2118.7 L1439.9,2117.2 L1441.5,2118.7 L1443.2,2117.2 L1444.8,2118.7 L1446.4,2117.2 L1448,2118.7 L1449.7,2117.2" stroke-width="1" stroke="#111"/>
<rect x="1450.6" y="2052.9" width="9.4" height="93.1" stroke-width="1"/>
<path d="M1460,2053.5 H1461 Q1461.9,2054 1461.9,2056 V2143 Q1461.9,2145.4 1461,2145.4 H1460" stroke-width="0.8"/>
<line x1="1450.6" y1="2146" x2="1450.6" y2="2252.4" stroke="#000" stroke-width="1.1"/>
<path d="M1462.6,2067.6 H1583 V2098.3 H1515.8 V2132.2 H1462.6" stroke-width="1"/>
<line x1="1550.6" y1="2098.3" x2="1583" y2="2098.3" stroke-width="1.4"/>
<line x1="1550.6" y1="2098.3" x2="1582.4" y2="2067.6" stroke-width="1.1"/>
<line x1="1553" y1="2098.3" x2="1582.4" y2="2070" stroke-width="0.8"/>
<path d="M1520.4,2102 H1579.5 M1520.4,2102 V2165.2 H1578.5" stroke-width="1"/>
<path d="M1551.3,2102 Q1565,2114 1593.6,2117.3 L1783.2,2117.6" stroke-width="1"/>
<path d="M1579.5,2102 Q1583,2108 1592.2,2109.1 L1774.8,2109.8 L1783.2,2117.6 L1772.4,2135.9 L1722.6,2145 L1719,2140.8 Q1714,2134.2 1706.4,2134.2 L1600.6,2133.8 Q1581,2134 1580.9,2148.6 V2162.7 Q1580.9,2165.2 1578.5,2165.2" stroke-width="1"/>
<rect x="1530.5" y="2165.2" width="41.5" height="10.1" stroke-width="0.9"/>
<line x1="1530.5" y1="2169.6" x2="1572" y2="2169.6" stroke-width="1.4"/>
<path d="M1528.6,2175.3 H1572.6 L1571,2218.4 H1530.6 Z" stroke-width="1" fill="url(#kn)"/>
<rect x="1532.3" y="2218.4" width="37.7" height="4.6" stroke-width="0.9"/>
<rect x="1536.9" y="2223" width="27.5" height="10.1" stroke-width="0.9"/>
<path d="M1539.5,2233.1 V2567.6 L1541.4,2737.2 L1544.3,2813.3 Q1546,2825 1556.6,2825 Q1566.5,2825 1567.5,2813.3 L1570.7,2737.2 L1573,2687.5 V2165.2" stroke-width="0.9"/>
<path d="M1561.4,2233.1 V2567.6 L1565.4,2807.4" stroke-width="0.8"/>
<line x1="1450.6" y1="2249.5" x2="1747.3" y2="2249.5" stroke="#000" stroke-width="1.1"/>
<polygon class="ar" points="1450.6,2249.5 1478.6,2244.8 1478.6,2254.2"/>
<polygon class="ar" points="1747.3,2249.5 1719.3,2254.2 1719.3,2244.8"/>
<line x1="1747.3" y1="2142.2" x2="1747.3" y2="2251.5" stroke="#000" stroke-width="1.1"/>
<text class="t" font-size="40" text-anchor="middle" transform="translate(1653.5,2248) rotate(0) scale(0.97,1)">159</text>
</g>
</svg>
</body></html>
